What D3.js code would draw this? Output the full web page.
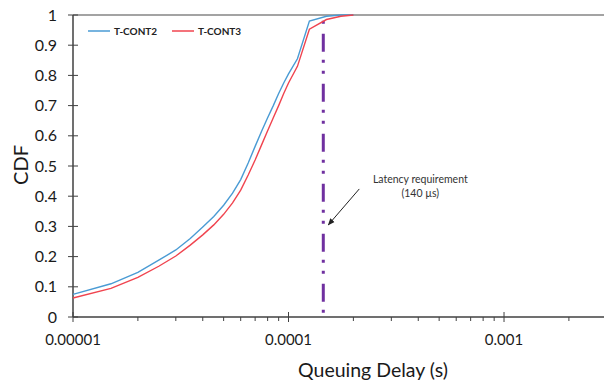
<!DOCTYPE html>
<html>
<head>
<meta charset="utf-8">
<script src="https://cdn.jsdelivr.net/npm/d3@7"></script>
<style>
  body { margin: 0; background: #fff; }
  svg { display: block; font-family: Lato, "Noto Sans", sans-serif; }
</style>
</head>
<body>
<figure id="cdf" style="margin:0"></figure>
<script>
// delay values (s) shared by both series
const delays = [1e-5, 1.5e-5, 2e-5, 2.5e-5, 3e-5, 3.5e-5, 4e-5, 4.5e-5, 5e-5, 5.5e-5,
  6e-5, 6.5e-5, 7e-5, 7.5e-5, 8e-5, 8.5e-5, 9e-5, 9.5e-5, 1e-4, 1.1e-4,
  1.25e-4, 1.5e-4, 1.75e-4, 2e-4];

const tcont2 = [0.075, 0.11, 0.148, 0.188, 0.222, 0.26, 0.298, 0.333, 0.37, 0.41,
  0.455, 0.51, 0.565, 0.615, 0.66, 0.70, 0.74, 0.775, 0.805, 0.855,
  0.98, 0.996, 1.0, 1.0];

const tcont3 = [0.063, 0.095, 0.131, 0.168, 0.202, 0.238, 0.272, 0.305, 0.34, 0.378,
  0.42, 0.47, 0.52, 0.57, 0.617, 0.66, 0.70, 0.74, 0.775, 0.83,
  0.953, 0.985, 0.996, 1.0];

const seriesNames = ["T-CONT2", "T-CONT3"];
const seriesColors = ["#4a9bd4", "#f0444f"];

const yTicks = [0, 0.1, 0.2, 0.3, 0.4, 0.5, 0.6, 0.7, 0.8, 0.9, 1];
const yTickLabels = ["0", "0.1", "0.2", "0.3", "0.4", "0.5", "0.6", "0.7", "0.8", "0.9", "1"];
const xMajor = [1e-5, 1e-4, 1e-3];
const xMajorLabels = ["0.00001", "0.0001", "0.001"];
const xMax = 2.91e-3;

const latency = 1.45e-4;   // where the requirement line sits on the picture
const latencyText = ["Latency requirement", "(140 µs)"];

const W = 604, H = 380;
const margin = { top: 15, left: 73, right: 0, bottom: 63 };
const width = W - margin.left - margin.right;
const height = H - margin.top - margin.bottom;

const svg = d3.select("figure#cdf")
  .append("svg")
  .attr("width", W)
  .attr("height", H);

const g = svg.append("g")
  .attr("transform", "translate(" + margin.left + "," + margin.top + ")");

const x = d3.scaleLog()
  .domain([1e-5, xMax])
  .range([0, width]);

const y = d3.scaleLinear()
  .domain([0, 1])
  .range([height, 0]);

// top border of the plot area
g.append("line")
  .attr("x1", 0).attr("x2", width)
  .attr("y1", 0).attr("y2", 0)
  .attr("stroke", "#858585")
  .attr("stroke-width", 1.5);

// minor x ticks (2..9 in each decade)
const minor = [];
[1e-5, 1e-4, 1e-3].forEach(d => {
  for (let k = 2; k < 10; k++) if (d * k <= xMax) minor.push(d * k);
});
g.selectAll(".minor")
  .data(minor)
  .enter()
  .append("line")
  .attr("x1", d => x(d)).attr("x2", d => x(d))
  .attr("y1", height).attr("y2", height + 4)
  .attr("stroke", "#404040");

// major x ticks cross the axis
g.selectAll(".major")
  .data(xMajor)
  .enter()
  .append("line")
  .attr("x1", d => x(d)).attr("x2", d => x(d))
  .attr("y1", height - 5).attr("y2", height + 5)
  .attr("stroke", "#404040");

g.selectAll(".xlab")
  .data(xMajor)
  .enter()
  .append("text")
  .attr("x", d => x(d))
  .attr("y", height + 23)
  .attr("dy", "0.35em")
  .attr("text-anchor", "middle")
  .attr("font-size", 15)
  .attr("fill", "#1a1a1a")
  .text((d, i) => xMajorLabels[i]);

// y ticks cross the axis too
g.selectAll(".ytick")
  .data(yTicks)
  .enter()
  .append("line")
  .attr("x1", -5).attr("x2", 5)
  .attr("y1", d => y(d)).attr("y2", d => y(d))
  .attr("stroke", "#404040");

g.selectAll(".ylab")
  .data(yTicks)
  .enter()
  .append("text")
  .attr("x", -16)
  .attr("y", d => y(d))
  .attr("dy", "0.35em")
  .attr("text-anchor", "end")
  .attr("font-size", 16)
  .attr("fill", "#1a1a1a")
  .text((d, i) => yTickLabels[i]);

// axis lines
g.append("line")
  .attr("x1", 0).attr("x2", 0)
  .attr("y1", 0).attr("y2", height)
  .attr("stroke", "#404040").attr("stroke-width", 1.5);
g.append("line")
  .attr("x1", 0).attr("x2", width)
  .attr("y1", height).attr("y2", height)
  .attr("stroke", "#404040").attr("stroke-width", 1.5);

// requirement line (dash-dot-dot)
g.append("line")
  .attr("x1", x(latency)).attr("x2", x(latency))
  .attr("y1", y(0.984)).attr("y2", y(0))
  .attr("stroke", "#7030a0")
  .attr("stroke-width", 3)
  .attr("stroke-dasharray", "18,8,3,8,3,10")
  .attr("stroke-dashoffset", 36);

// the two CDF curves
const line = d3.line()
  .x(d => x(d[0]))
  .y(d => y(d[1]));

[tcont2, tcont3].forEach((vals, i) => {
  g.append("path")
    .datum(delays.map((d, j) => [d, vals[j]]))
    .attr("fill", "none")
    .attr("stroke", seriesColors[i])
    .attr("stroke-width", 1.4)
    .attr("d", line);
});

// legend
const legendX = [15, 99];
seriesNames.forEach((name, i) => {
  g.append("line")
    .attr("x1", legendX[i]).attr("x2", legendX[i] + 22)
    .attr("y1", 16).attr("y2", 16)
    .attr("stroke", seriesColors[i])
    .attr("stroke-width", 1.5);
  g.append("text")
    .attr("x", legendX[i] + 26)
    .attr("y", 16)
    .attr("dy", "0.35em")
    .attr("font-size", 10)
    .attr("font-weight", "bold")
    .attr("fill", "#222")
    .text(name);
});

// annotation with arrow
svg.append("defs").append("marker")
  .attr("id", "arrow")
  .attr("viewBox", "0 0 10 10")
  .attr("refX", 9).attr("refY", 5)
  .attr("markerWidth", 7).attr("markerHeight", 7)
  .attr("orient", "auto")
  .append("path")
  .attr("d", "M0,1 L10,5 L0,9 Z")
  .attr("fill", "#222");

g.append("line")
  .attr("x1", x(latency) + 36).attr("y1", y(0.424))
  .attr("x2", x(latency) + 5).attr("y2", y(0.305))
  .attr("stroke", "#222")
  .attr("stroke-width", 1)
  .attr("marker-end", "url(#arrow)");

g.selectAll(".note")
  .data(latencyText)
  .enter()
  .append("text")
  .attr("x", x(latency) + 97)
  .attr("y", (d, i) => 164 + i * 14)
  .attr("dy", "0.35em")
  .attr("text-anchor", "middle")
  .attr("font-size", 10.5)
  .attr("fill", "#333")
  .text(d => d);

// axis titles
svg.append("text")
  .attr("x", 373)
  .attr("y", 377)
  .attr("text-anchor", "middle")
  .attr("font-size", 19.5)
  .attr("fill", "#1a1a1a")
  .text("Queuing Delay (s)");

svg.append("text")
  .attr("transform", "translate(28,165) rotate(-90)")
  .attr("text-anchor", "middle")
  .attr("font-size", 20)
  .attr("fill", "#1a1a1a")
  .text("CDF");
</script>
</body>
</html>
